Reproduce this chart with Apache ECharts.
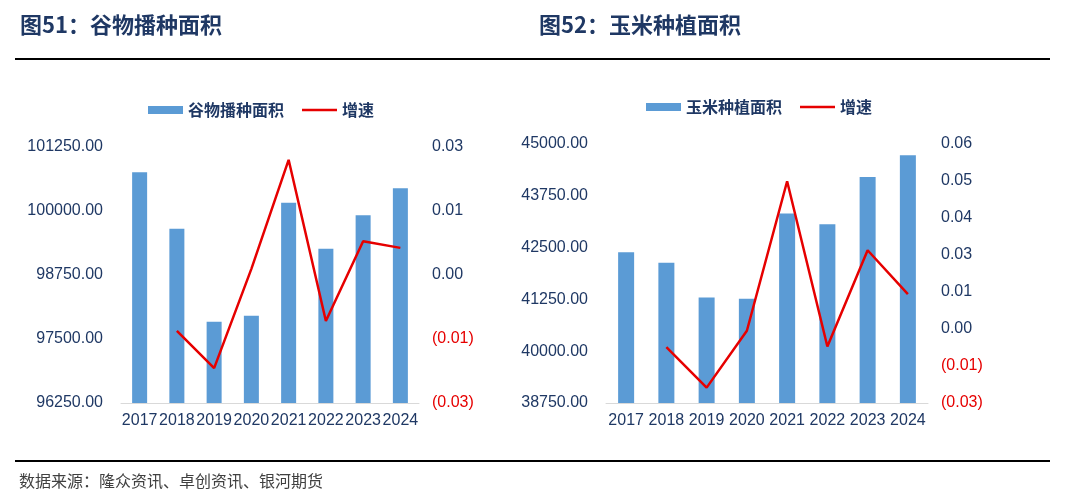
<!DOCTYPE html>
<html>
<head>
<meta charset="utf-8">
<script src="https://cdn.jsdelivr.net/npm/echarts@6/dist/echarts.min.js"></script>
<style>
html,body{margin:0;padding:0;background:#fff;}
#c{width:1076px;height:500px;}
</style>
</head>
<body>
<div id="c"></div>
<script>
const years = ['2017','2018','2019','2020','2021','2022','2023','2024'];
const grainArea = [100756, 99655, 97838, 97955, 100162, 99264, 99916, 100443];
const grainGrowth = ['-', -0.0109, -0.0182, 0.0012, 0.0225, -0.0090, 0.0066, 0.0053];
const cornArea = [42390, 42132, 41296, 41264, 43320, 43065, 44205, 44728];
const cornGrowth = ['-', -0.0061, -0.0198, -0.0006, 0.0499, -0.0059, 0.0266, 0.0118];

const NAVY = '#1f3864';
const BLUE = '#5b9bd5';
const RED = '#e60000';
const SANS = '"Liberation Sans", Arial, sans-serif';
const CJK = '"Noto Sans CJK SC", sans-serif';
const LINE_ICON = 'path://M0,0 L40,0 L40,3 L0,3 Z';

function pctFmt(v) {
  const r = Math.round(Math.abs(v) * 100 + 1e-6) / 100;
  const s = r.toFixed(2);
  return v < -1e-9 ? '{n|(' + s + ')}' : s;
}
const leftLabel = {
  margin: 18, color: NAVY, fontSize: 16, fontFamily: SANS,
  formatter: v => v.toFixed(2)
};
const rightLabel = {
  margin: 13, color: NAVY, fontSize: 16, fontFamily: SANS,
  formatter: pctFmt,
  rich: { n: { color: RED, fontSize: 16, fontFamily: SANS } }
};
const xLabel = { margin: 10, color: NAVY, fontSize: 16, fontFamily: SANS, interval: 0 };

const chart = echarts.init(document.getElementById('c'));
chart.setOption({
  animation: false,
  backgroundColor: '#fff',
  title: [
    { text: '图51：谷物播种面积', left: 20, top: 14, padding: 0,
      textStyle: { color: NAVY, fontSize: 22, fontWeight: 'bold', fontFamily: CJK } },
    { text: '图52：玉米种植面积', left: 539, top: 14, padding: 0,
      textStyle: { color: NAVY, fontSize: 22, fontWeight: 'bold', fontFamily: CJK } },
    { text: '数据来源：隆众资讯、卓创资讯、银河期货', left: 19, top: 473, padding: 0,
      textStyle: { color: '#404040', fontSize: 16, fontWeight: 'normal', fontFamily: CJK } }
  ],
  graphic: [
    { type: 'rect', shape: { x: 15, y: 58, width: 1035, height: 2 }, style: { fill: '#000' } },
    { type: 'rect', shape: { x: 15, y: 460, width: 1035, height: 2 }, style: { fill: '#000' } }
  ],
  legend: [
    { left: 148, top: 102, padding: 0, itemWidth: 35, itemHeight: 8, itemGap: 18,
      data: [{ name: '谷物播种面积', icon: 'rect' }, { name: '增速', icon: LINE_ICON }],
      textStyle: { color: NAVY, fontSize: 16, fontWeight: 'bold', fontFamily: CJK } },
    { left: 646, top: 99, padding: 0, itemWidth: 35, itemHeight: 8, itemGap: 18,
      data: [{ name: '玉米种植面积', icon: 'rect' }, { name: '增速', icon: LINE_ICON }],
      textStyle: { color: NAVY, fontSize: 16, fontWeight: 'bold', fontFamily: CJK } }
  ],
  grid: [
    { left: 121, right: 657, top: 147, bottom: 97 },
    { left: 606, right: 148, top: 144, bottom: 97 }
  ],
  xAxis: [
    { type: 'category', gridIndex: 0, data: years,
      axisLine: { onZero: false, lineStyle: { color: '#d9d9d9', width: 1 } }, axisTick: { show: false },
      axisLabel: xLabel },
    { type: 'category', gridIndex: 1, data: years,
      axisLine: { onZero: false, lineStyle: { color: '#d9d9d9', width: 1 } }, axisTick: { show: false },
      axisLabel: xLabel }
  ],
  yAxis: [
    { type: 'value', gridIndex: 0, min: 96250, max: 101250, interval: 1250,
      splitLine: { show: false }, axisLine: { show: false }, axisTick: { show: false },
      axisLabel: leftLabel },
    { type: 'value', gridIndex: 0, position: 'right', min: -0.025, max: 0.025, interval: 0.0125,
      splitLine: { show: false }, axisLine: { show: false }, axisTick: { show: false },
      axisLabel: rightLabel },
    { type: 'value', gridIndex: 1, min: 38750, max: 45000, interval: 1250,
      splitLine: { show: false }, axisLine: { show: false }, axisTick: { show: false },
      axisLabel: leftLabel },
    { type: 'value', gridIndex: 1, position: 'right', min: -0.025, max: 0.0625, interval: 0.0125,
      splitLine: { show: false }, axisLine: { show: false }, axisTick: { show: false },
      axisLabel: rightLabel }
  ],
  series: [
    { name: '谷物播种面积', type: 'bar', xAxisIndex: 0, yAxisIndex: 0, data: grainArea,
      barWidth: 15, itemStyle: { color: BLUE } },
    { name: '增速', type: 'line', xAxisIndex: 0, yAxisIndex: 1, data: grainGrowth,
      symbol: 'none', lineStyle: { color: RED, width: 2.5 }, itemStyle: { color: RED } },
    { name: '玉米种植面积', type: 'bar', xAxisIndex: 1, yAxisIndex: 2, data: cornArea,
      barWidth: 16, itemStyle: { color: BLUE } },
    { name: '增速', type: 'line', xAxisIndex: 1, yAxisIndex: 3, data: cornGrowth,
      symbol: 'none', lineStyle: { color: RED, width: 2.5 }, itemStyle: { color: RED } }
  ]
});
</script>
</body>
</html>
